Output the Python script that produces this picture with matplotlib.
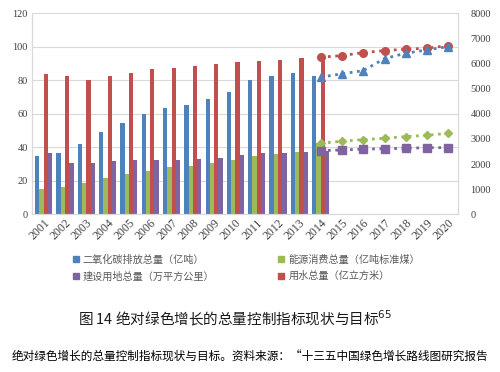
import matplotlib
matplotlib.use("Agg")
import matplotlib.pyplot as plt
import numpy as np
from matplotlib.patches import Patch

# data
years = [str(y) for y in range(2001, 2021)]
bar_years = years[:14]
co2 = [34.8, 36.4, 42.0, 49.1, 54.5, 59.7, 63.6, 65.4, 68.7, 73.2, 80.2, 82.6, 84.2, 82.6]
energy = [15.1, 16.1, 18.7, 21.9, 23.9, 25.9, 28.1, 29.0, 30.6, 32.4, 35.0, 36.0, 37.4, 42.7]
land = [36.6, 30.4, 30.6, 31.6, 32.2, 32.6, 32.6, 33.0, 33.4, 35.6, 36.4, 36.6, 37.4, 38.0]
water = [5590, 5510, 5339, 5522, 5641, 5801, 5829, 5908, 5976, 6056, 6108, 6135, 6215, 6240]

target_years = years[13:]
co2_target = [81.9, 83.9, 85.8, 93.0, 96.2, 98.2, 100.2]
energy_target = [42.4, 43.6, 44.6, 45.4, 46.4, 47.2, 48.4]
land_target = [38.0, 38.4, 38.9, 39.2, 39.4, 39.8, 39.8]
water_target = [6255, 6319, 6438, 6518, 6574, 6614, 6717]

labels = ['二氧化碳排放总量（亿吨）', '能源消费总量（亿吨标准煤）',
          '建设用地总量（万平方公里）', '用水总量（亿立方米）']

blue, green, purple, red = '#4F81BD', '#9BBB59', '#8064A2', '#C0504D'
num_font = 'Liberation Serif'
cjk = ['Noto Sans CJK SC', 'DejaVu Sans']

fig = plt.figure(figsize=(5, 3.72), dpi=100)
ax = fig.add_axes([0.064, 0.424, 0.852, 0.54])
ax2 = ax.twinx()

x = np.arange(len(years))
xb = np.arange(len(bar_years))
xt = np.arange(13, 20)
w = 0.2

ax.bar(xb - 1.5 * w, co2, w, color=blue)
ax.bar(xb - 0.5 * w, energy, w, color=green)
ax.bar(xb + 1.5 * w, land, w, color=purple)
ax2.bar(xb + 0.5 * w, water, w, color=red)

# target lines drawn on top, in each series' own axis scale
ax2.plot(xt, water_target, ':', color=red, lw=2, marker='o', ms=5.5, zorder=5)
ax2.plot(xt, co2_target, ':', color=blue, lw=2, marker='^', ms=5.5,
         transform=ax.transData, zorder=5)
ax2.plot(xt, energy_target, ':', color=green, lw=2, marker='D', ms=4.5,
         transform=ax.transData, zorder=5)
ax2.plot(xt, land_target, ':', color=purple, lw=2, marker='s', ms=5.5,
         transform=ax.transData, zorder=5)

ax.set_xlim(-0.55, 19.45)
ax.set_ylim(0, 120)
ax2.set_ylim(0, 8000)
ax.set_yticks(range(0, 121, 20))
ax2.set_yticks(range(0, 8001, 1000))
ax.set_xticks(x)
ax.set_xticklabels(years, rotation=45, ha='right', va='top',
                   rotation_mode='anchor', fontsize=8.5, family=num_font,
                   color='#404040')
ax.grid(axis='y', color='#D9D9D9', lw=0.8)
ax.set_axisbelow(True)
ax.tick_params(length=0, pad=3)
ax.tick_params(axis='x', pad=2)
ax2.tick_params(length=0, pad=9)
for a in (ax, ax2):
    for t in a.get_yticklabels():
        t.set_family(num_font)
        t.set_fontsize(7.5)
        t.set_color('#404040')
    for s in a.spines.values():
        s.set_color('#D9D9D9')
ax.spines['top'].set_visible(False)
ax2.spines['top'].set_visible(False)

handles = [Patch(color=blue), Patch(color=purple), Patch(color=green), Patch(color=red)]
leg_labels = [labels[0], labels[2], labels[1], labels[3]]
fig.legend(handles, leg_labels, loc='upper left', bbox_to_anchor=(0.127, 0.341),
           ncol=2, frameon=False, handlelength=0.6, handleheight=0.6,
           handletextpad=0.4, columnspacing=6.3, labelspacing=0.65,
           prop={'family': cjk, 'size': 7.3}, labelcolor='#595959')

fig.text(0.47, 0.146, '图 14 绝对绿色增长的总量控制指标现状与目标$^{65}$',
         ha='center', va='center', fontsize=10.5, family=cjk, color='#1a1a1a')
fig.text(0.024, 0.041, '绝对绿色增长的总量控制指标现状与目标。资料来源：“十三五中国绿色增长路线图研究报告',
         ha='left', va='center', fontsize=8.4, family=cjk, color='black')

fig.savefig('out.png', dpi=100)
